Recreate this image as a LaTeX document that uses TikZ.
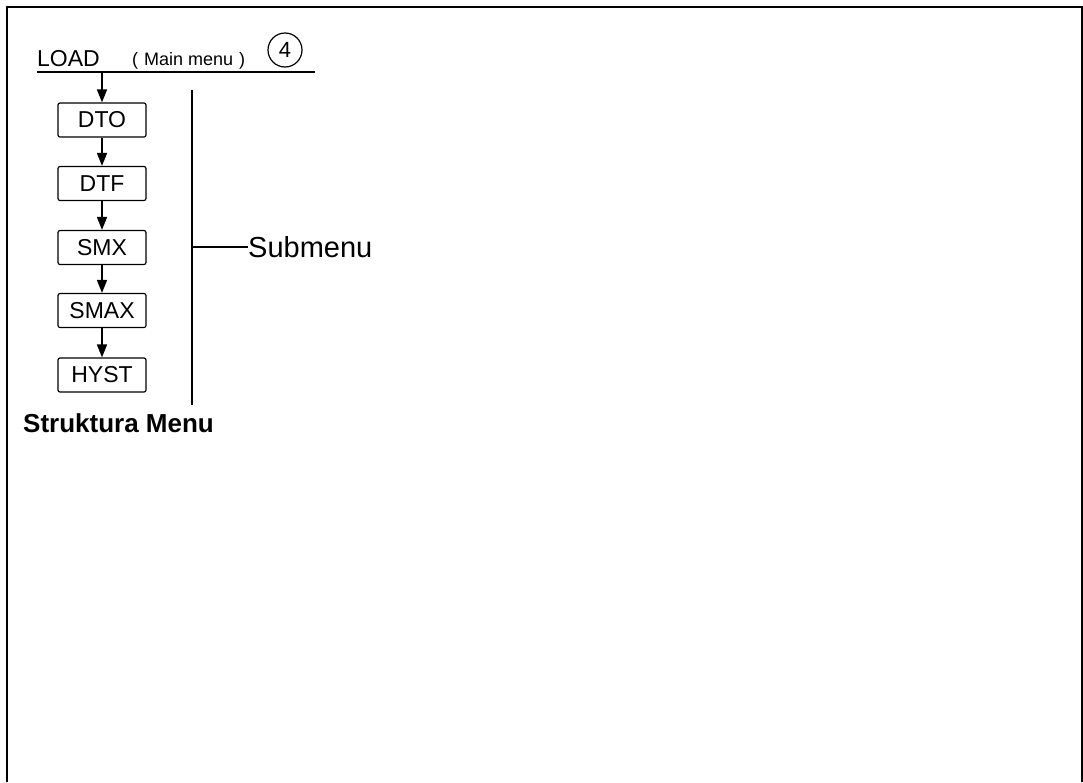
\documentclass[tikz,border=0pt]{standalone}
\usepackage{fontspec}
\setmainfont{Liberation Sans}
\usetikzlibrary{arrows.meta}
\begin{document}
\begin{tikzpicture}[x=1pt,y=-1pt,
  menubox/.style={draw, line width=1.2pt, rounded corners=2pt, minimum width=88pt,
    minimum height=34pt, inner sep=0pt, font=\fontsize{23}{23}\selectfont},
  flow/.style={line width=1.6pt, -{Triangle[length=13pt,width=10pt]}},
  rule/.style={line width=1.8pt}]
\useasboundingbox (0,0) rectangle (1083,782);
% outer frame, open at the bottom
\draw[line width=2pt] (7,782) -- (7,6.5) -- (1081.5,6.5) -- (1081.5,782);
% main menu heading
\node[anchor=base west, inner sep=0pt, font=\fontsize{23}{23}\selectfont] (load) at (37,66) {LOAD};
\node[anchor=base west, inner sep=0pt, font=\fontsize{18}{18}\selectfont] (main) at (132,65) {(\,\,Main menu\,\,)};
\node[draw, circle, line width=1.2pt, minimum size=34pt, inner sep=0pt,
  font=\fontsize{22}{22}\selectfont] (num) at (285,50) {4};
\coordinate (ruleL) at (37,72);
\coordinate (ruleR) at (315,72);
\coordinate (ruleM) at (102,72);
\draw[rule] (ruleL) -- (ruleR);
% submenu entries
\node[menubox] (dto)  at (102,120) {DTO};
\node[menubox] (dtf)  at (102,183.5) {DTF};
\node[menubox] (smx)  at (102,247.5) {SMX};
\node[menubox] (smax) at (102,310.5) {SMAX};
\node[menubox] (hyst) at (102,375) {HYST};
\draw[flow] (ruleM) -- (dto.north);
\draw[flow] (dto) -- (dtf);
\draw[flow] (dtf) -- (smx);
\draw[flow] (smx) -- (smax);
\draw[flow] (smax) -- (hyst);
% bracket marking the submenu
\coordinate (brTop) at (192,90);
\coordinate (brBot) at (192,405);
\coordinate (brMid) at (192,247);
\draw[rule] (brTop) -- (brBot);
\node[anchor=west, inner sep=0pt, font=\fontsize{29}{29}\selectfont] (sub) at (248,247) {Submenu};
\draw[rule] (brMid) -- (sub.west);
% caption
\node[anchor=base west, inner sep=0pt, font=\bfseries\fontsize{26}{26}\selectfont] (cap) at (23,432) {Struktura Menu};
\end{tikzpicture}
\end{document}
